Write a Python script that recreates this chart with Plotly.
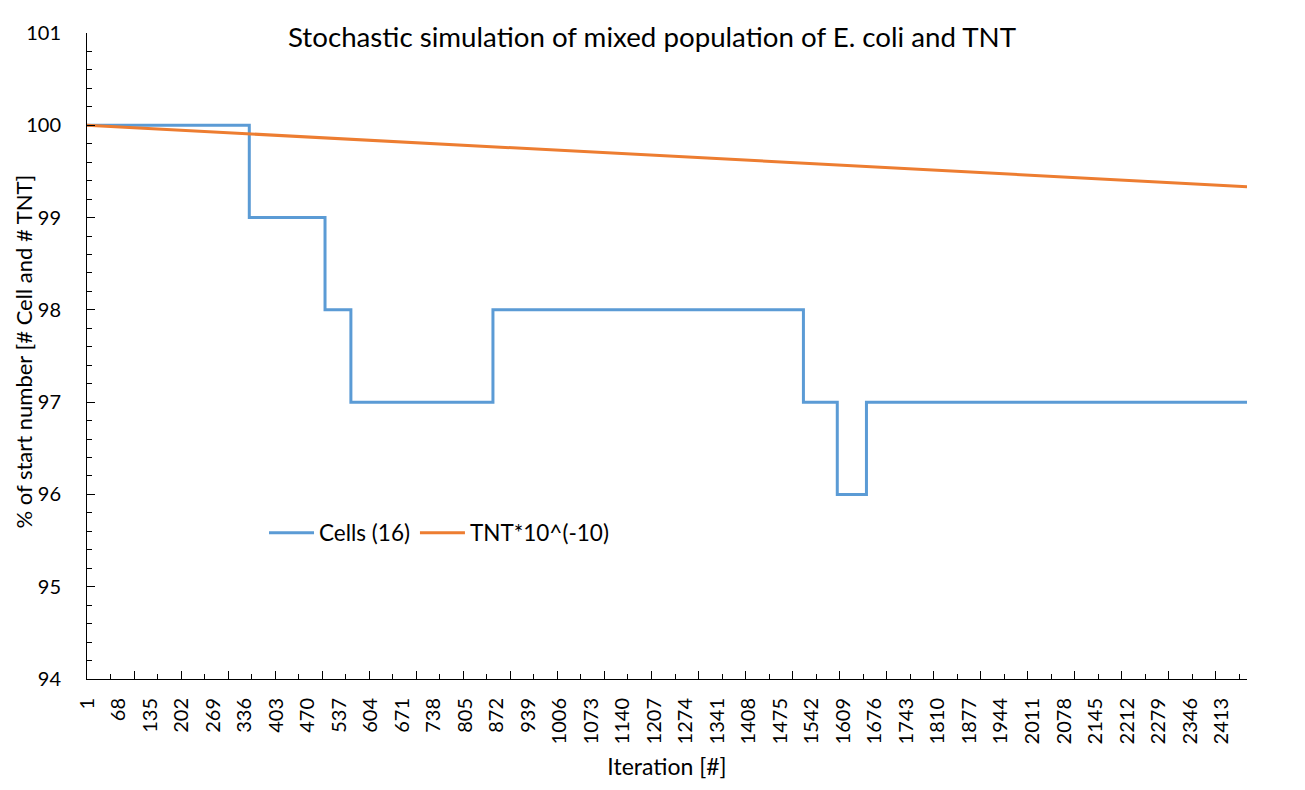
import plotly.graph_objects as go

# Cells (16): step changes (iteration where new value starts, value in %)
cells_iter = [1, 346, 507, 562, 864, 1524, 1596, 1658, 2467]
cells_val = [100, 99, 98, 97, 98, 97, 96, 97, 97]

# TNT*10^(-10): read at a few iterations (almost linear decline)
tnt_iter = [1, 500, 1000, 1500, 2000, 2467]
tnt_val = [100.0, 99.865, 99.73, 99.597, 99.462, 99.335]

# category labels shown on the x axis
x_labels = [1, 68, 135, 202, 269, 336, 403, 470, 537, 604, 671, 738, 805, 872,
            939, 1006, 1073, 1140, 1207, 1274, 1341, 1408, 1475, 1542, 1609,
            1676, 1743, 1810, 1877, 1944, 2011, 2078, 2145, 2212, 2279, 2346, 2413]
n_iter = 2467

FONT = "Lato, Open Sans, sans-serif"
W, H = 1297, 782

fig = go.Figure()
fig.add_trace(go.Scatter(x=cells_iter, y=cells_val, mode="lines", name="Cells (16)",
                         line=dict(color="#5B9BD5", width=3, shape="hv")))
fig.add_trace(go.Scatter(x=tnt_iter, y=tnt_val, mode="lines", name="TNT*10^(-10)",
                         xaxis="x2", line=dict(color="#ED7D31", width=3)))

fig.update_layout(
    width=W, height=H,
    margin=dict(l=79, r=58, t=19, b=111),
    paper_bgcolor="white", plot_bgcolor="white",
    font=dict(family=FONT, size=20, color="#000000"),
    title=dict(text="Stochastic simulation of mixed population of E. coli and TNT",
               x=644 / W, xref="container", y=1 - 29 / H, yref="container",
               xanchor="center", yanchor="middle",
               font=dict(family=FONT, size=27.7, color="#000000")),
    showlegend=True,
    legend=dict(orientation="h", x=0.1526, y=0.226, xanchor="left", yanchor="middle",
                itemwidth=45, font=dict(family=FONT, size=22.5),
                bgcolor="rgba(0,0,0,0)"),
    xaxis=dict(range=[1, n_iter], showgrid=False, zeroline=False,
               showline=True, linecolor="#000000", linewidth=1,
               tickmode="linear", tick0=1, dtick=100,
               ticks="inside", ticklen=8, tickcolor="#000000",
               showticklabels=False,
               minor=dict(ticks="inside", ticklen=5, tick0=1, dtick=50, tickcolor="#000000")),
    xaxis2=dict(range=[1, n_iter], overlaying="x", anchor="y", side="bottom",
                showgrid=False, zeroline=False, showline=False,
                tickmode="array", tickvals=x_labels, ticktext=[str(v) for v in x_labels],
                ticks="", tickangle=-90, ticklabelstandoff=14,
                tickfont=dict(family=FONT, size=20),
                title=dict(text="Iteration [#]", standoff=15,
                           font=dict(family=FONT, size=23))),
    yaxis=dict(range=[94, 101], showgrid=False, zeroline=False,
               showline=True, linecolor="#000000", linewidth=1,
               tickmode="linear", tick0=94, dtick=1,
               ticks="inside", ticklen=8, tickcolor="#000000",
               ticklabelstandoff=21,
               minor=dict(ticks="inside", ticklen=5, dtick=0.2, tickcolor="#000000"),
               tickfont=dict(family=FONT, size=20)),
    annotations=[dict(text="% of start number [# Cell and # TNT]", textangle=-90,
                      xref="paper", yref="paper", x=0, y=(671 - 340.5) / 652,
                      xshift=-63, xanchor="center", yanchor="middle", showarrow=False,
                      font=dict(family=FONT, size=22, color="#000000"))],
)

fig.write_html("out.html")
